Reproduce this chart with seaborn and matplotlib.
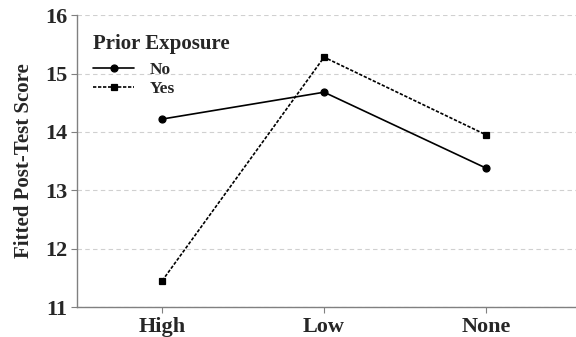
import matplotlib
matplotlib.use("Agg")
import matplotlib.pyplot as plt
import pandas as pd
import seaborn as sns

# Values
CATEGORIES = ["High", "Low", "None"]
NO_SCORES = [14.22, 14.68, 13.38]
YES_SCORES = [11.45, 15.28, 13.95]

data = pd.DataFrame({
	"level": CATEGORIES * 2,
	"score": NO_SCORES + YES_SCORES,
	"exposure": ["No"] * 3 + ["Yes"] * 3,
})

sns.set_style("white")
plt.rcParams["font.family"] = ["Liberation Serif", "DejaVu Serif"]
plt.rcParams["font.weight"] = "bold"

fig = plt.figure(figsize = (5.76, 3.37), dpi = 100)
ax = fig.add_axes([0.134, 0.089, 0.866, 0.866])

sns.pointplot(x = "level", y = "score", hue = "exposure", data = data, order = CATEGORIES,
	palette = ["black", "black"], markers = ["o", "s"], linestyles = ["-", (0, (2, 1))],
	dodge = False, errorbar = None, ax = ax, markersize = 5, linewidth = 1.2)

ax.set_ylim(11, 16)
ax.set_xlim(-0.525, 2.556)
ax.set_yticks([11, 12, 13, 14, 15, 16])
ax.yaxis.grid(True, color = "#d0d0d0", linestyle = (0, (4, 3)), linewidth = 0.8)
ax.set_axisbelow(True)

for side in ["top", "right"]:
	ax.spines[side].set_visible(False)
for side in ["left", "bottom"]:
	ax.spines[side].set_color("#808080")
	ax.spines[side].set_linewidth(1.0)

ax.tick_params(axis = "both", which = "major", direction = "out", length = 4, color = "#808080", labelsize = 16, pad = 3, left = True, bottom = True)
for lbl in ax.get_xticklabels() + ax.get_yticklabels():
	lbl.set_fontweight("bold")

ax.set_xlabel("")
ax.set_ylabel("Fitted Post-Test Score", fontsize = 15, fontweight = "bold", labelpad = 8)

leg = ax.legend(title = "Prior Exposure", loc = "upper left", bbox_to_anchor = (0.0, 0.99), frameon = False,
	prop = {"weight": "bold", "size": 12.5}, handlelength = 2.4, handletextpad = 0.9, labelspacing = 0.15)
leg.get_title().set_fontweight("bold")
leg.get_title().set_fontsize(15)
leg._legend_box.align = "left"
leg._legend_box.sep = 6

fig.savefig("out.png", dpi = 100)
